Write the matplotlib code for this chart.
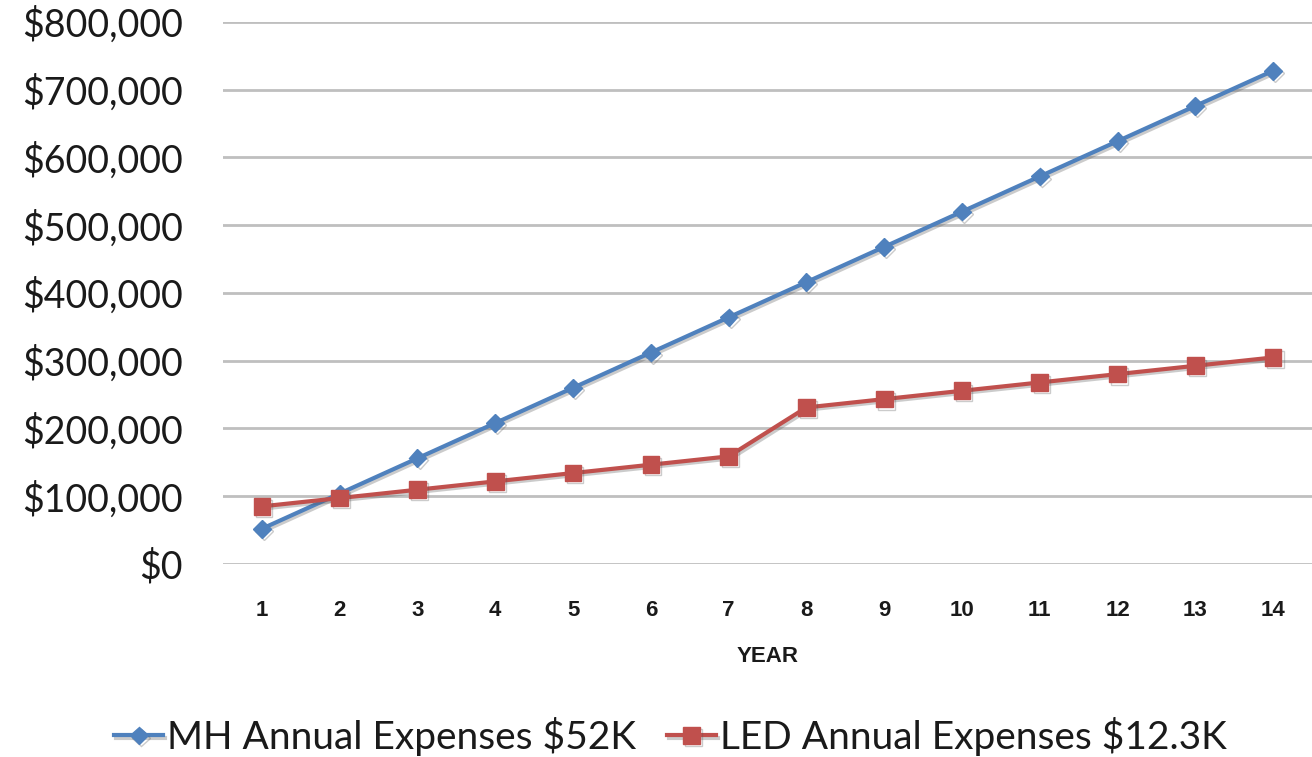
import numpy as np
import matplotlib
matplotlib.use("Agg")
import matplotlib.pyplot as plt
import matplotlib.patheffects as pe
from matplotlib.ticker import FuncFormatter

# Data
years = list(range(1, 15))
mh_expenses = [52000, 104000, 156000, 208000, 260000, 312000, 364000,
               416000, 468000, 520000, 572000, 624000, 676000, 728000]
led_expenses = [85000, 97300, 109600, 121900, 134200, 146500, 158800,
                231000, 243300, 255600, 267900, 280200, 292500, 304800]
mh_label = "MH Annual Expenses $52K"
led_label = "LED Annual Expenses $12.3K"

blue = "#4F81BD"
red = "#C0504D"

fig = plt.figure(figsize=(13.12, 7.57), dpi=100)
ax = fig.add_axes([0.170, 0.255, 0.830, 0.716])

shadow = [pe.SimpleLineShadow(offset=(1.5, -1.5), alpha=0.3, shadow_color="#555555"), pe.Normal()]

ax.plot(years, mh_expenses, color=blue, lw=3, marker="D", markersize=9,
        label=mh_label, path_effects=shadow, zorder=3)
ax.plot(years, led_expenses, color=red, lw=3, marker="s", markersize=12,
        label=led_label, path_effects=shadow, zorder=3)

ax.set_xlim(0.5, 14.5)
ax.set_ylim(0, 800000)
ax.set_yticks(np.arange(0, 800001, 100000))
ax.yaxis.set_major_formatter(FuncFormatter(lambda v, p: "${:,.0f}".format(v)))
ax.set_xticks(years)
ax.grid(axis="y", color="#BFBFBF", lw=2)
ax.set_axisbelow(True)
for s in ax.spines.values():
    s.set_visible(False)
ax.tick_params(axis="both", length=0)
ax.tick_params(axis="y", pad=29)
ax.tick_params(axis="x", pad=26)

for lab in ax.get_yticklabels():
    lab.set_fontfamily("Lato")
    lab.set_fontsize(27)
    lab.set_color("#1a1a1a")
for lab in ax.get_xticklabels():
    lab.set_fontfamily("Liberation Sans")
    lab.set_fontweight("bold")
    lab.set_fontsize(16)
    lab.set_color("#1a1a1a")

ax.set_xlabel("YEAR", fontfamily="Liberation Sans", fontweight="bold", fontsize=16,
              labelpad=18, color="#1a1a1a")

leg = fig.legend(loc="lower center", bbox_to_anchor=(0.511, -0.045), ncol=2, frameon=False,
                 prop={"family": "Lato", "size": 28}, handlelength=1.25, handletextpad=0.1,
                 columnspacing=0.8)
for t in leg.get_texts():
    t.set_color("#1a1a1a")

fig.savefig("out.png", dpi=100)
